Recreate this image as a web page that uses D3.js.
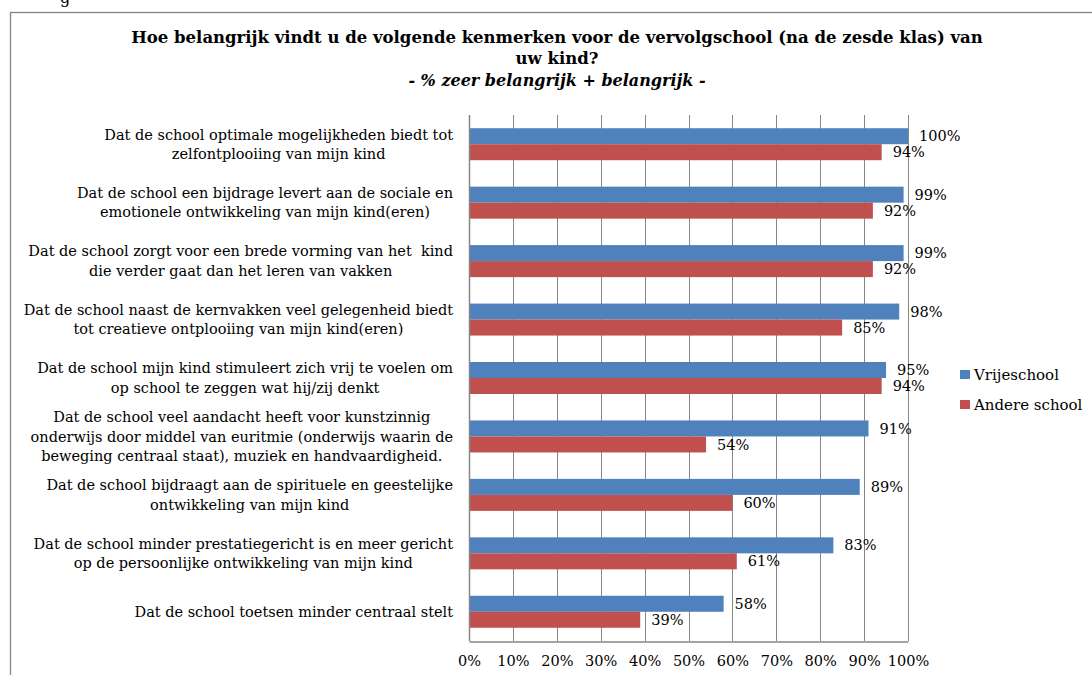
<!DOCTYPE html>
<html>
<head>
<meta charset="utf-8">
<script src="https://cdn.jsdelivr.net/npm/d3@7"></script>
<style>
  body { margin: 0; background: #fff; }
  text { font-family: "DejaVu Serif", serif; fill: #000; }
</style>
</head>
<body>
<div id="chart"></div>
<script>
var categories = [
  ["Dat de school optimale mogelijkheden biedt tot", "zelfontplooiing van mijn kind"],
  ["Dat de school een bijdrage levert aan de sociale en", "emotionele ontwikkeling van mijn kind(eren)"],
  ["Dat de school zorgt voor een brede vorming van het  kind", "die verder gaat dan het leren van vakken"],
  ["Dat de school naast de kernvakken veel gelegenheid biedt", "tot creatieve ontplooiing van mijn kind(eren)"],
  ["Dat de school mijn kind stimuleert zich vrij te voelen om", "op school te zeggen wat hij/zij denkt"],
  ["Dat de school veel aandacht heeft voor kunstzinnig", "onderwijs door middel van euritmie (onderwijs waarin de", "beweging centraal staat), muziek en handvaardigheid."],
  ["Dat de school bijdraagt aan de spirituele en geestelijke", "ontwikkeling van mijn kind"],
  ["Dat de school minder prestatiegericht is en meer gericht", "op de persoonlijke ontwikkeling van mijn kind"],
  ["Dat de school toetsen minder centraal stelt"]
];
var vrijeschool = [100, 99, 99, 98, 95, 91, 89, 83, 58];
var andereSchool = [94, 92, 92, 85, 94, 54, 60, 61, 39];
var seriesNames = ["Vrijeschool", "Andere school"];
var seriesColors = ["#4F81BD", "#C0504D"];
var xTicks = [0, 10, 20, 30, 40, 50, 60, 70, 80, 90, 100];
var titleLines = ["Hoe belangrijk vindt u de volgende kenmerken voor de vervolgschool (na de zesde klas) van", "uw kind?"];
var subtitle = "- % zeer belangrijk + belangrijk -";

var W = 1092, H = 675;
var plot = {left: 469, right: 908, top: 115, bottom: 641};
var grey = "#868686";
var fs = "14.5px";

var svg = d3.select("#chart").append("svg")
  .attr("width", W)
  .attr("height", H);

svg.append("rect").attr("width", W).attr("height", H).attr("fill", "#fff");

// stray text from the page above the chart
svg.append("text").attr("x", 60).attr("y", 3)
  .style("font-size", "16px").text("g");

// chart frame
svg.append("rect")
  .attr("x", 10.5).attr("y", 12.5)
  .attr("width", W + 20).attr("height", H + 20)
  .attr("fill", "none").attr("stroke", grey).attr("stroke-width", 1.3);

// title
var cx = 557;
svg.selectAll(".title")
  .data(titleLines)
  .enter().append("text")
  .attr("class", "title")
  .attr("x", cx)
  .attr("y", function(d, i) { return 43 + i * 21; })
  .attr("text-anchor", "middle")
  .style("font-size", "16.5px")
  .style("font-weight", "bold")
  .text(function(d) { return d; });

svg.append("text")
  .attr("x", cx).attr("y", 86)
  .attr("text-anchor", "middle")
  .style("font-size", "16px")
  .style("font-weight", "bold")
  .style("font-style", "italic")
  .text(subtitle);

var x = d3.scaleLinear().domain([0, 100]).range([plot.left, plot.right]);

var y = d3.scaleBand()
  .domain(d3.range(categories.length))
  .range([plot.top, plot.bottom])
  .paddingInner(0.4525)
  .paddingOuter(0.4525 / 2);

var ySub = d3.scaleBand()
  .domain([0, 1])
  .range([0, y.bandwidth()]);

// gridlines
var grid = svg.append("g");
grid.selectAll("line")
  .data(xTicks)
  .enter().append("line")
  .attr("x1", function(d) { return Math.round(x(d)) + 0.5; })
  .attr("x2", function(d) { return Math.round(x(d)) + 0.5; })
  .attr("y1", plot.top)
  .attr("y2", plot.bottom)
  .attr("stroke", grey)
  .attr("stroke-width", 1);

// bars
var series = [vrijeschool, andereSchool];
series.forEach(function(vals, s) {
  svg.append("g").selectAll("rect")
    .data(vals)
    .enter().append("rect")
    .attr("x", x(0))
    .attr("y", function(d, i) { return y(i) + ySub(s); })
    .attr("width", function(d) { return x(d) - x(0); })
    .attr("height", ySub.bandwidth())
    .attr("fill", seriesColors[s]);

  svg.append("g").selectAll("text")
    .data(vals)
    .enter().append("text")
    .attr("x", function(d) { return x(d) + 11; })
    .attr("y", function(d, i) { return y(i) + ySub(s) + ySub.bandwidth() / 2; })
    .attr("dy", "0.35em")
    .style("font-size", fs)
    .text(function(d) { return d + "%"; });
});

// axes lines
svg.append("line")
  .attr("x1", Math.round(x(0)) + 0.5).attr("x2", Math.round(x(0)) + 0.5)
  .attr("y1", plot.top).attr("y2", plot.bottom)
  .attr("stroke", grey).attr("stroke-width", 1.5);

var xAxis = d3.axisBottom(x)
  .tickValues(xTicks)
  .tickSize(0)
  .tickPadding(14)
  .tickFormat(function(d) { return d + "%"; });

var ax = svg.append("g")
  .attr("transform", "translate(0," + (plot.bottom + 0.5) + ")")
  .call(xAxis);
ax.select(".domain").attr("stroke", grey).attr("stroke-width", 1.5);
ax.selectAll("text")
  .style("font-family", "DejaVu Serif, serif")
  .style("font-size", fs)
  .attr("fill", "#000");

// category labels
var labelRight = 453;
var lineH = 19.5;
categories.forEach(function(lines, i) {
  var g = svg.append("g");
  var cy = y(i) + y.bandwidth() / 2;
  var texts = g.selectAll("text")
    .data(lines)
    .enter().append("text")
    .attr("y", function(d, k) { return cy + (k - (lines.length - 1) / 2) * lineH; })
    .attr("dy", "0.35em")
    .attr("text-anchor", "middle")
    .style("font-size", fs)
    .style("white-space", "pre")
    .text(function(d) { return d; });
  var maxW = d3.max(texts.nodes(), function(n) { return n.getComputedTextLength(); });
  texts.attr("x", labelRight - maxW / 2);
});

// legend
var legend = svg.append("g").selectAll("g")
  .data(seriesNames)
  .enter().append("g")
  .attr("transform", function(d, i) { return "translate(960," + (370 + i * 30) + ")"; });
legend.append("rect")
  .attr("width", 10).attr("height", 9)
  .attr("fill", function(d, i) { return seriesColors[i]; });
legend.append("text")
  .attr("x", 14).attr("y", 4.5).attr("dy", "0.35em")
  .style("font-size", "15px")
  .text(function(d) { return d; });
</script>
</body>
</html>
